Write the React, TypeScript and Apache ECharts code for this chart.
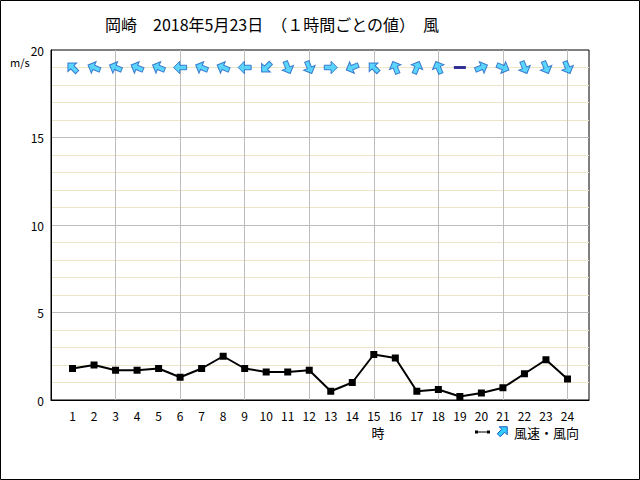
import React, { useEffect, useRef } from "react";
import * as echarts from "echarts";

const titleText = "岡崎　2018年5月23日　（１時間ごとの値）　風";
const hours = [1, 2, 3, 4, 5, 6, 7, 8, 9, 10, 11, 12, 13, 14, 15, 16, 17, 18, 19, 20, 21, 22, 23, 24];
const speed = [1.8, 2.0, 1.7, 1.7, 1.8, 1.3, 1.8, 2.5, 1.8, 1.6, 1.6, 1.7, 0.5, 1.0, 2.6, 2.4, 0.5, 0.6, 0.2, 0.4, 0.7, 1.5, 2.3, 1.2];
const windFrom = [
  "南東", "東南東", "東南東", "東南東", "東南東", "東", "東南東", "東南東", "東", "北東", "北北西", "北北西",
  "西", "東北東", "南東", "南南東", "南南西", "南南東", "静穏", "西南西", "西北西", "北北西", "北北西", "北北西",
];
const compass16 = ["北", "北北東", "北東", "東北東", "東", "東南東", "南東", "南南東", "南", "南南西", "南西", "西南西", "西", "西北西", "北西", "北北西"];
const arrowLevel = 19;
const yTicks = [0, 5, 10, 15, 20];

const FONT = "'Noto Sans CJK JP', sans-serif";
const ARROW_PATH = "path://M10,0 L19.5,9.5 L13.5,9.5 L13.5,20 L6.5,20 L6.5,9.5 L0.5,9.5 Z";

function arrowPolygon(cx: number, cy: number, deg: number, s: number): number[][] {
  const pts = [[0, -10], [9.5, -0.5], [3.5, -0.5], [3.5, 10], [-3.5, 10], [-3.5, -0.5], [-9.5, -0.5]];
  const r = (deg * Math.PI) / 180;
  const c = Math.cos(r), sn = Math.sin(r);
  return pts.map(([x, y]) => [cx + (x * c - y * sn) * s, cy + (x * sn + y * c) * s]);
}

export default function App() {
  const ref = useRef<HTMLDivElement>(null);
  useEffect(() => {
    if (!ref.current) return;
    const chart = echarts.init(ref.current, null, { renderer: "svg" });
    const arrowData = hours.map((h, i) => {
      const name = windFrom[i];
      const idx = compass16.indexOf(name);
      if (idx < 0) {
        return {
          value: [h, arrowLevel],
          symbol: "rect",
          symbolSize: [12, 3],
          itemStyle: { color: "#000080", borderWidth: 0 },
        };
      }
      const toDeg = (idx * 22.5 + 180) % 360;
      return { value: [h, arrowLevel], symbolRotate: -toDeg };
    });
    chart.setOption({
      animation: false,
      backgroundColor: "#fff",
      title: {
        text: titleText,
        left: 100,
        top: 11,
        textStyle: { fontFamily: FONT, fontSize: 16, fontWeight: "normal", color: "#000" },
      },
      grid: { left: 51, right: 51, top: 50, bottom: 80, show: true, borderColor: "#000", borderWidth: 1, backgroundColor: "#fff" },
      xAxis: [
        {
          type: "value",
          min: 0,
          max: 25,
          interval: 1,
          z: 3,
          axisLine: { show: true, lineStyle: { color: "#000", width: 1 } },
          axisTick: { show: false },
          splitLine: { show: false },
          axisLabel: {
            color: "#000",
            fontFamily: FONT,
            fontSize: 12,
            margin: 9,
            formatter: (v: number) => (hours.includes(v) ? String(v) : ""),
          },
        },
        {
          type: "value",
          min: 0,
          max: 25,
          interval: 3,
          position: "bottom",
          z: 2,
          axisLine: { show: false },
          axisTick: { show: false },
          axisLabel: { show: false },
          splitLine: { show: true, showMinLine: false, showMaxLine: false, lineStyle: { color: "#bdbdbd", width: 1 } },
        },
      ],
      yAxis: [
        {
          type: "value",
          min: 0,
          max: 20,
          interval: 5,
          z: 3,
          axisLine: { show: true, lineStyle: { color: "#000", width: 1 } },
          axisTick: { show: false },
          axisLabel: {
            color: "#000",
            fontFamily: FONT,
            fontSize: 12,
            margin: 7,
            formatter: (v: number) => (yTicks.includes(v) ? String(v) : ""),
          },
          splitLine: { show: true, showMinLine: false, showMaxLine: false, lineStyle: { color: "#bdbdbd", width: 1 } },
        },
        {
          type: "value",
          min: 0,
          max: 20,
          interval: 1,
          position: "left",
          z: 1,
          axisLine: { show: false },
          axisTick: { show: false },
          axisLabel: { show: false },
          splitLine: { show: true, showMinLine: false, showMaxLine: false, lineStyle: { color: "#ede6c6", width: 1 } },
        },
      ],
      series: [
        {
          type: "line",
          data: hours.map((h, i) => [h, speed[i]]),
          xAxisIndex: 0,
          yAxisIndex: 0,
          symbol: "rect",
          symbolSize: 7,
          lineStyle: { color: "#000", width: 2 },
          itemStyle: { color: "#000" },
          z: 5,
        },
        {
          type: "scatter",
          data: arrowData,
          xAxisIndex: 1,
          yAxisIndex: 1,
          symbol: ARROW_PATH,
          symbolSize: 13,
          symbolKeepAspect: true,
          itemStyle: { color: "#33ccff", borderColor: "#1a5fc0", borderWidth: 1 },
          z: 6,
        },
      ],
      graphic: [
        { type: "rect", shape: { x: 0.5, y: 0.5, width: 639, height: 479 }, style: { fill: "none", stroke: "#000", lineWidth: 1 }, z: 100 },
        { type: "text", left: 10, top: 56, style: { text: "m/s", fontFamily: FONT, fontSize: 11, fill: "#000" } },
        { type: "text", x: 378, y: 432, style: { text: "時", fontFamily: FONT, fontSize: 13, fill: "#000", align: "center", verticalAlign: "middle" } },
        { type: "line", shape: { x1: 476, y1: 432, x2: 489, y2: 432 }, style: { stroke: "#000", lineWidth: 1 } },
        { type: "rect", shape: { x: 475, y: 430.5, width: 3, height: 3 }, style: { fill: "#000" } },
        { type: "rect", shape: { x: 487, y: 430.5, width: 3, height: 3 }, style: { fill: "#000" } },
        {
          type: "polygon",
          shape: { points: arrowPolygon(503, 431, 45, 0.6) },
          style: { fill: "#33ccff", stroke: "#1a5fc0", lineWidth: 1 },
        },
        { type: "text", x: 514, y: 432, style: { text: "風速・風向", fontFamily: FONT, fontSize: 13, fill: "#000", verticalAlign: "middle" } },
      ],
    });
    return () => chart.dispose();
  }, []);
  return <div ref={ref} style={{ position: "fixed", left: 0, top: 0, width: 640, height: 480 }} />;
}
